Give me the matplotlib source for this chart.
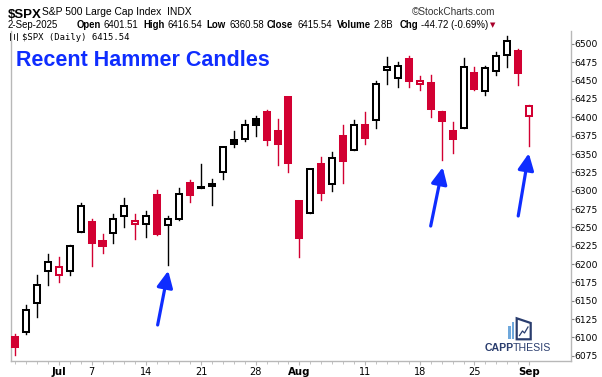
import numpy as np
import matplotlib.pyplot as plt
from matplotlib.patches import Rectangle, Polygon
from matplotlib.lines import Line2D

# S&P 500 daily, 25-Jun-2025 .. 2-Sep-2025
opens = [6100, 6108, 6147, 6191, 6185, 6191, 6244, 6257, 6232, 6242,
         6265, 6254, 6254, 6294, 6253, 6262, 6311, 6304, 6306, 6326,
         6369, 6370, 6398, 6407, 6381, 6428, 6286, 6270, 6336, 6309,
         6375, 6355, 6390, 6396, 6464, 6454, 6480, 6446, 6447, 6407,
         6381, 6385, 6460, 6436, 6463, 6485, 6491, 6401.51]
highs = [6105, 6144, 6185, 6214, 6210, 6226, 6283, 6261, 6241, 6268,
         6290, 6268, 6272, 6301, 6266, 6303, 6315, 6336, 6316, 6360,
         6381, 6396, 6402, 6410, 6398, 6428, 6286, 6330, 6346, 6353,
         6390, 6396, 6407, 6449, 6482, 6476, 6484, 6456, 6458, 6409,
         6393, 6481, 6469, 6470, 6489, 6511, 6493, 6416.54]
lows = [6076, 6104, 6128, 6171, 6175, 6185, 6244, 6197, 6215, 6229,
        6250, 6234, 6237, 6240, 6199, 6260, 6284, 6303, 6280, 6316,
        6360, 6368, 6375, 6362, 6335, 6326, 6210, 6270, 6287, 6300,
        6310, 6355, 6363, 6386, 6446, 6442, 6442, 6437, 6400, 6342,
        6352, 6385, 6437, 6430, 6458, 6468, 6444, 6360.58]
closes = [6087, 6138, 6171, 6203, 6196, 6225, 6279, 6228, 6224, 6262,
          6279, 6258, 6266, 6241, 6262, 6296, 6294.5, 6305.5, 6309, 6359,
          6363, 6389, 6390, 6369, 6363, 6338, 6236, 6329, 6297, 6344,
          6340, 6389, 6372, 6446, 6468, 6470, 6450, 6449, 6412, 6395,
          6370, 6468, 6439, 6467, 6484, 6504, 6461, 6415.54]
prev_close_first = 6092.18

tick_idx = [4, 7, 12, 17, 22, 26, 32, 37, 42, 47]
tick_lab = ['Jul', '7', '14', '21', '28', 'Aug', '11', '18', '25', 'Sep']
month_labels = ['Jul', 'Aug', 'Sep']
yticks = list(range(6075, 6501, 25))

RED = '#d20032'
BLUE = '#0f2dff'
NAVY = '#2a3d6e'
GREY = '#b8b8b8'

W, H = 602, 377
fig = plt.figure(figsize=(W / 100, H / 100), dpi=100)
ax = fig.add_axes([10.5 / W, 1 - 361 / H, (570.5 - 10.5) / W, (361 - 31) / H])

prev = [prev_close_first] + closes[:-1]
bw = 0.55
for i in range(len(opens)):
    o, h, l, c = opens[i], highs[i], lows[i], closes[i]
    col = 'black' if c >= prev[i] else RED
    face = col if c < o else 'white'
    ax.add_line(Line2D([i, i], [l, h], color=col, lw=1.0, zorder=2))
    lo, hi = min(o, c), max(o, c)
    ax.add_patch(Rectangle((i - bw / 2, lo), bw, max(hi - lo, 0.8),
                           facecolor=face, edgecolor=col, lw=1.45, zorder=3))

ax.set_xlim(-0.41, 50.78)
ax.set_ylim(6067.8, 6517.7)

# arrows pointing at the hammer candles
arrows = [((13.04, 6116.9), (14.01, 6190.9)),
          ((38.0, 6251.8), (39.1, 6331.9)),
          ((46.0, 6265.5), (46.97, 6351.0))]
for tail, tip in arrows:
    ax.annotate('', xy=tip, xytext=tail,
                arrowprops=dict(arrowstyle='-|>,head_length=1.0,head_width=0.48',
                                color=BLUE, lw=2.3, shrinkA=0, shrinkB=0,
                                mutation_scale=10), zorder=5)

ax.spines['top'].set_visible(False)
for s in ['left', 'right', 'bottom']:
    ax.spines[s].set_color(GREY)
    ax.spines[s].set_linewidth(1.0)

ax.yaxis.tick_right()
ax.set_yticks(yticks)
ax.set_yticklabels([str(v) for v in yticks], fontsize=6.6, family='DejaVu Sans')
ax.tick_params(axis='y', length=2.5, width=0.8, color='#808080', pad=0.5)

ax.set_xticks(tick_idx)
ax.set_xticklabels(tick_lab, fontsize=7)
for t in ax.get_xticklabels():
    if t.get_text() in month_labels:
        t.set_fontweight('bold')
        t.set_fontsize(7.4)
ax.set_xticks(range(len(opens)), minor=True)
ax.tick_params(axis='x', which='major', length=3, width=0.8, color=GREY, pad=1)
ax.tick_params(axis='x', which='minor', length=2, width=0.6, color=GREY)


def px(x, y):
    return x / W, 1 - y / H


# header
fig.text(*px(8, 17.5), '$SPX', fontsize=9.5, fontweight='bold', family='Liberation Sans')
fig.text(*px(42, 15), 'S&P 500 Large Cap Index  INDX', fontsize=7.4, family='Liberation Sans')
fig.text(*px(495, 15), '©StockCharts.com', fontsize=7.2, family='Liberation Sans',
         ha='right', color='#333333')

line2 = [(8, '2-Sep-2025', 'normal'), (77, 'Open', 'bold'), (104, '6401.51', 'normal'),
         (143, 'High', 'bold'), (167, '6416.54', 'normal'), (206, 'Low', 'bold'),
         (229, '6360.58', 'normal'), (267, 'Close', 'bold'), (298, '6415.54', 'normal'),
         (337, 'Volume', 'bold'), (373, '2.8B', 'normal'), (400, 'Chg', 'bold'),
         (420, '-44.72 (-0.69%)', 'normal')]
fig.canvas.draw()
renderer = fig.canvas.get_renderer()
end = 0
for x, s, wgt in line2:
    x = max(x, end + 2.5)
    t = fig.text(*px(x, 27.5), s, fontsize=6.9, fontweight=wgt, family='Liberation Sans')
    end = t.get_window_extent(renderer).x1
fig.text(*px(end + 2, 27.5), '▼', fontsize=5.0, color='#a8002a', family='DejaVu Sans')

# legend line inside the panel
for xx, y0, y1 in [(10, 33, 39.5), (13.5, 33.5, 39), (17, 33, 39.5)]:
    fig.add_artist(Line2D([xx / W, xx / W], [1 - y0 / H, 1 - y1 / H],
                          color='black', lw=0.6, transform=fig.transFigure))
fig.text(*px(22, 39.5), '$SPX (Daily) 6415.54', fontsize=6.4, family='DejaVu Sans Mono')

fig.text(*px(16, 66.5), 'Recent Hammer Candles', fontsize=15.5, fontweight='bold',
         color=BLUE, family='Liberation Sans')

# logo
for x0, x1, y0 in [(508.3, 510.7, 326), (511.7, 514.2, 322)]:
    fig.add_artist(Rectangle(px(x0, 339.3), (x1 - x0) / W, (339.3 - y0) / H,
                             transform=fig.transFigure, color='#6fa8dc', lw=0))
frame = [px(516.7, 339.3), px(516.7, 318.3), px(530.7, 323), px(530.7, 339.3)]
fig.add_artist(Polygon(frame, closed=True, transform=fig.transFigure,
                       facecolor='white', edgecolor=NAVY, lw=1.6))
zig = [px(519.5, 335.5), px(522.5, 331), px(524.5, 333), px(528, 327)]
fig.add_artist(Line2D([p[0] for p in zig], [p[1] for p in zig], color=NAVY, lw=0.9,
                      transform=fig.transFigure))
thesis = fig.text(*px(550.7, 350.8), 'THESIS', fontsize=7.6, color=NAVY,
                  family='Liberation Sans', ha='right')
bb = thesis.get_window_extent(renderer)
fig.text((bb.x0 + 1.2) / W, 1 - 350.8 / H, 'CAPP', fontsize=7.6, fontweight='bold',
         color=NAVY, family='Liberation Sans', ha='right')

fig.savefig('out.png', dpi=100)
